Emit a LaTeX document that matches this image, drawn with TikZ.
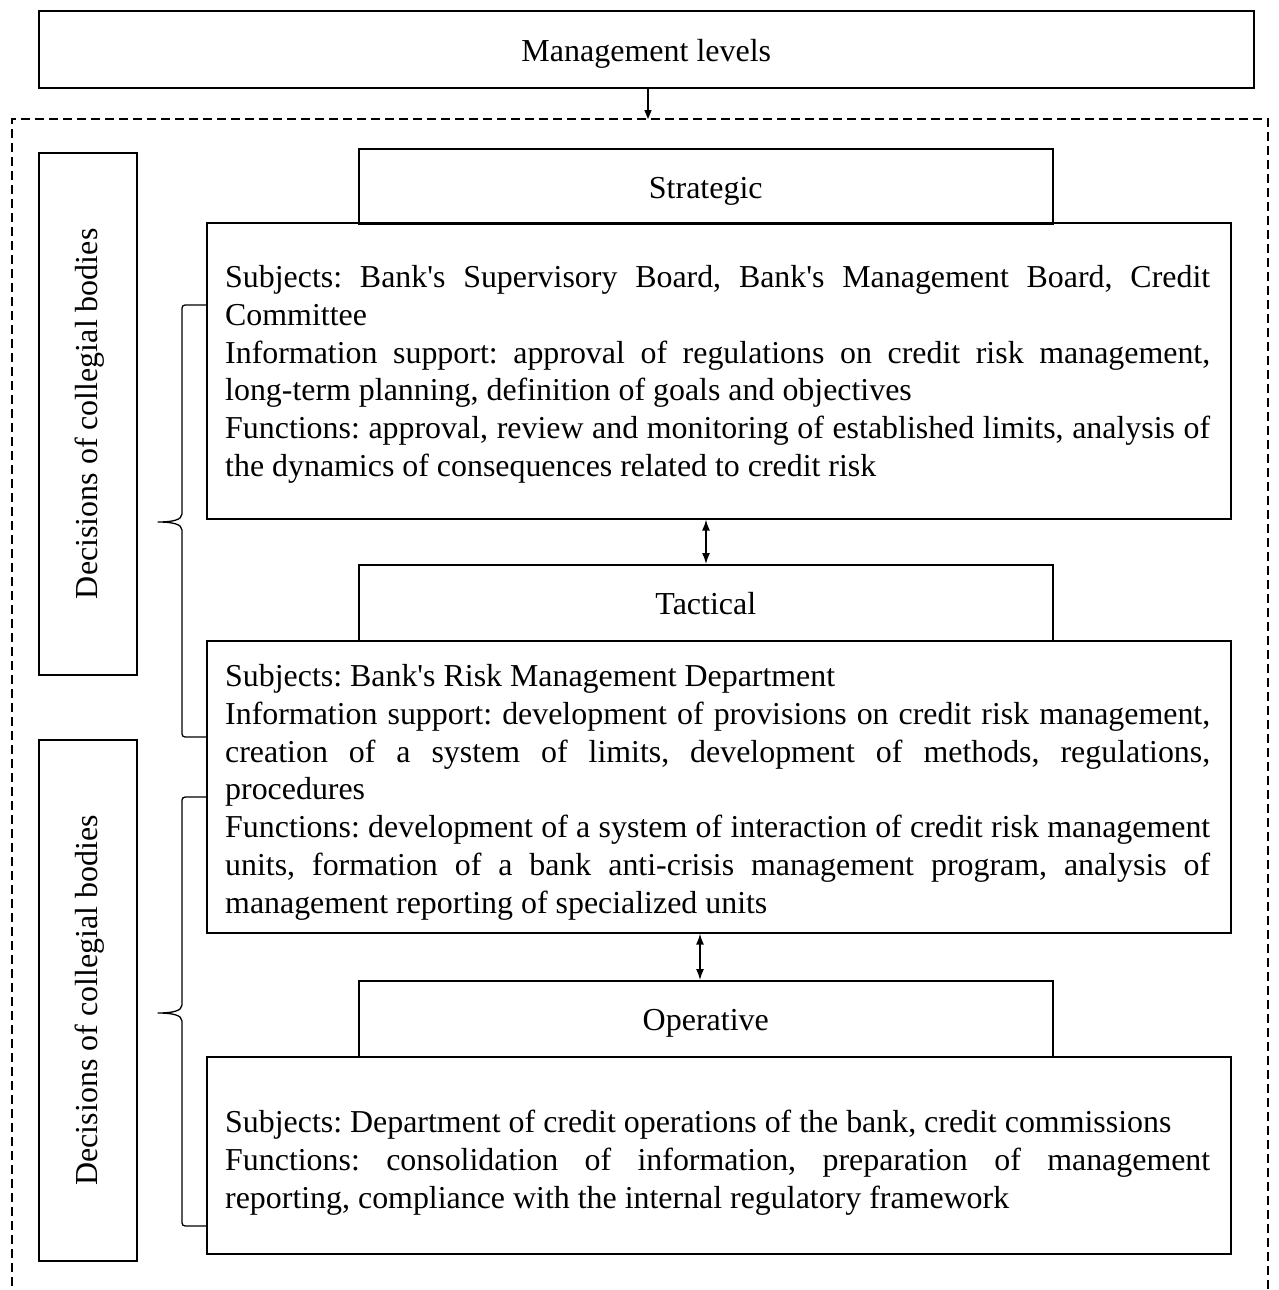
\documentclass[tikz,border=0pt]{standalone}
\usepackage{fontspec}
\setmainfont{Liberation Serif}
\usetikzlibrary{arrows.meta}
\newcommand\jl[1]{\makebox[985pt][s]{\spaceskip=0.25em plus 1fil\relax #1}}
\newcommand\ap{\textquotesingle}
\begin{document}
\begin{tikzpicture}[x=1pt,y=-1pt,
  box/.style={draw,line width=1.6pt,inner sep=0pt,anchor=north west},
  big/.style={font=\fontsize{32}{38}\selectfont},
  head/.style={box,big,minimum width=694pt,minimum height=75pt,text height=24pt,text depth=0pt},
  cbox/.style={box,minimum width=1024pt},
  ctext/.style={font=\fontsize{31.9}{37.8}\selectfont\frenchspacing,text width=985pt,align=left,inner sep=0pt,anchor=base west},
  side/.style={box,minimum width=98pt,minimum height=522pt},
  conn/.style={line width=1.5pt},
  dtip/.style={conn,{Latex[length=11pt,width=8pt]}-{Latex[length=11pt,width=8pt]}},
  brace/.style={line width=1.3pt,line join=round}
]
\useasboundingbox (0,0) rectangle (1278,1290);

% top box
\node[box,big,minimum width=1215pt,minimum height=77pt,text height=24pt,text depth=0pt] (mgmt) at (38,10) {Management levels};

% dashed frame (bottom edge lies outside the picture)
\draw[line width=2pt,dash pattern=on 9pt off 5pt] (12,1300) -- (12,119) -- (1268,119) -- (1268,1300);
\coordinate (dtop) at (648,119);
\draw[conn,-{Triangle[length=9pt,width=7pt]}] (mgmt.south -| dtop) -- (dtop);

% side boxes
\node[side] (s1) at (38,152) {};
\node[big,rotate=90] (s1t) at ([xshift=2pt]s1.center) {Decisions of collegial bodies};
\node[side,minimum height=521pt] (s2) at (38,739) {};
\node[big,rotate=90] (s2t) at ([xshift=2pt]s2.center) {Decisions of collegial bodies};

% strategic
\node[head] (strh) at (358,148) {Strategic};
\node[cbox,minimum height=296pt] (strc) at (206,222) {};
\node[ctext] (strt) at (225,287.5) {\spaceskip=0pt\relax
\jl{Subjects: Bank\ap s Supervisory Board, Bank\ap s Management Board, Credit}\\
Committee\\
\jl{Information support: approval of regulations on credit risk management,}\\
long-term planning, definition of goals and objectives\\
\jl{Functions: approval, review and monitoring of established limits, analysis of}\\
the dynamics of consequences related to credit risk};

% tactical
\node[head,minimum height=76pt] (tach) at (358,564) {Tactical};
\node[cbox,minimum height=292pt] (tacc) at (206,640) {};
\node[ctext] (tact) at (225,686.5) {\spaceskip=0pt\relax
Subjects: Bank\ap s Risk Management Department\\
\jl{Information support: development of provisions on credit risk management,}\\
\jl{creation of a system of limits, development of methods, regulations,}\\
procedures\\
\jl{Functions: development of a system of interaction of credit risk management}\\
\jl{units, formation of a bank anti-crisis management program, analysis of}\\
management reporting of specialized units};

% operative
\node[head,minimum height=76pt] (oprh) at (358,980) {Operative};
\node[cbox,minimum height=197pt] (oprc) at (206,1056) {};
\node[ctext] (oprt) at (225,1132.5) {\spaceskip=0pt\relax
Subjects: Department of credit operations of the bank, credit commissions\\
\jl{Functions: consolidation of information, preparation of management}\\
reporting, compliance with the internal regulatory framework};

% double arrows
\coordinate (a1) at (706,0);
\coordinate (a2) at (700,0);
\draw[dtip] (strc.south -| a1) -- (tach.north -| a1);
\draw[dtip] (tacc.south -| a2) -- (oprh.north -| a2);

% braces
\coordinate (b1t) at (206,305);
\coordinate (b1b) at (206,737);
\coordinate (b2t) at (206,797);
\coordinate (b2b) at (206,1226);
\draw[brace] (b1t) -- (189,305) .. controls (182,305) .. (182,312) -- (182,514)
  .. controls (182,520) and (172,522) .. (158,522)
  .. controls (172,522) and (182,524) .. (182,530) -- (182,730)
  .. controls (182,737) .. (189,737) -- (b1b);
\draw[brace] (b2t) -- (189,797) .. controls (182,797) .. (182,804) -- (182,1005)
  .. controls (182,1011) and (172,1013) .. (158,1013)
  .. controls (172,1013) and (182,1015) .. (182,1021) -- (182,1219)
  .. controls (182,1226) .. (189,1226) -- (b2b);
\end{tikzpicture}
\end{document}
